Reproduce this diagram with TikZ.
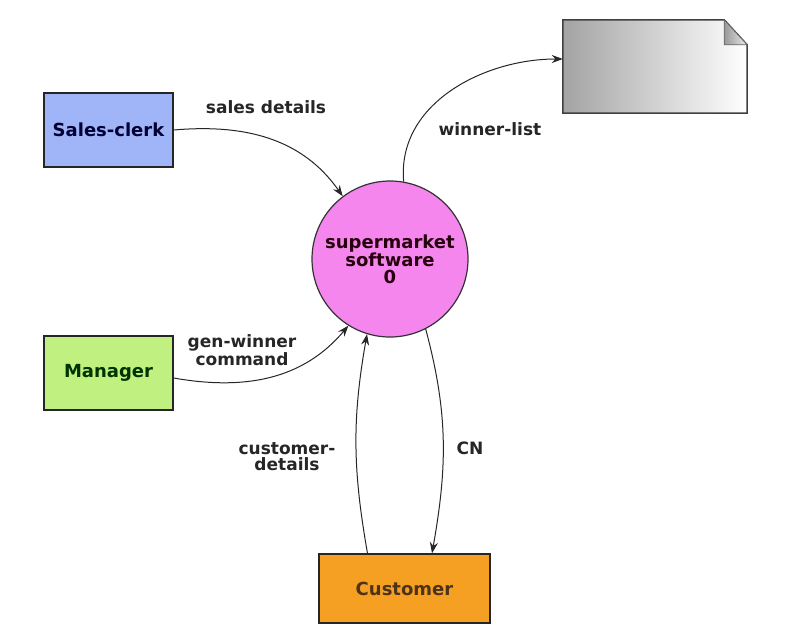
\documentclass[tikz,border=0pt]{standalone}
\usepackage{fontspec}
\setmainfont{DejaVu Sans}
\usepackage{tikz}
\usetikzlibrary{arrows.meta}

\definecolor{clerkblue}{HTML}{A0B4F8}
\definecolor{managergreen}{HTML}{BFF080}
\definecolor{customerorange}{HTML}{F5A023}
\definecolor{processpink}{HTML}{F586EE}

\begin{document}
\begin{tikzpicture}[x=1pt,y=-1pt,
  entity/.style={draw=black!85,line width=1.4pt,minimum width=129pt,minimum height=74pt,font=\bfseries\fontsize{18}{20}\selectfont},
  process/.style={circle,draw=black!80,line width=1.2pt,fill=processpink,minimum size=156pt,inner sep=0pt,align=center,text=black!80!purple,font=\bfseries\fontsize{18}{17}\selectfont},
  flowlabel/.style={align=center,font=\bfseries\fontsize{17}{16}\selectfont,text=black!85},
  flow/.style={draw=black!85,line width=1pt,-{Stealth[length=11pt,width=8pt]}}]
\useasboundingbox (0,0) rectangle (791,638);

\node[entity,fill=clerkblue,text=blue!20!black] (clerk) at (108.5,130) {Sales-clerk};
\node[entity,fill=managergreen,text=green!20!black] (manager) at (108.5,373) {Manager};
\node[entity,fill=customerorange,text=brown!40!black,minimum width=171pt,minimum height=69pt] (customer) at (404.5,588.5) {Customer};
\node[process] (software) at (390,259) {supermarket\\software\\0};
\node[minimum width=184pt,minimum height=93pt] (doc) at (655,66.5) {};

\shade[left color=black!36,right color=white,draw=black!75,line width=1.5pt]
  (doc.north west) -- ([xshift=-23pt]doc.north east) -- ([yshift=-25pt]doc.north east)
  -- (doc.south east) -- (doc.south west) -- cycle;
\shade[left color=black!40,right color=black!8,draw=black!60,line width=0.8pt]
  ([xshift=-23pt]doc.north east) -- ([xshift=-23pt,yshift=-25pt]doc.north east)
  -- ([yshift=-25pt]doc.north east) -- cycle;

\draw[flow] (clerk.east) to[out=5,in=125] (software.127);
\draw[flow] (software.80) to[out=95,in=180] ([yshift=7.5pt]doc.west);
\draw[flow] ([yshift=-5pt]manager.east) to[out=-10,in=230] (software.238);
\draw[flow] ([xshift=-37pt]customer.north) to[out=100,in=-100] (software.253);
\draw[flow] (software.297) to[out=-75,in=80] ([xshift=27.5pt]customer.north);

\node[flowlabel] (salesdetails) at (266,107) {sales details};
\node[flowlabel] (winnerlist) at (490,129) {winner-list};
\node[flowlabel] (genwinner) at (242,350) {gen-winner\\command};
\node[flowlabel] (customerdetails) at (287,457) {customer-\\details};
\node[flowlabel] (cn) at (470,448) {CN};
\end{tikzpicture}
\end{document}
